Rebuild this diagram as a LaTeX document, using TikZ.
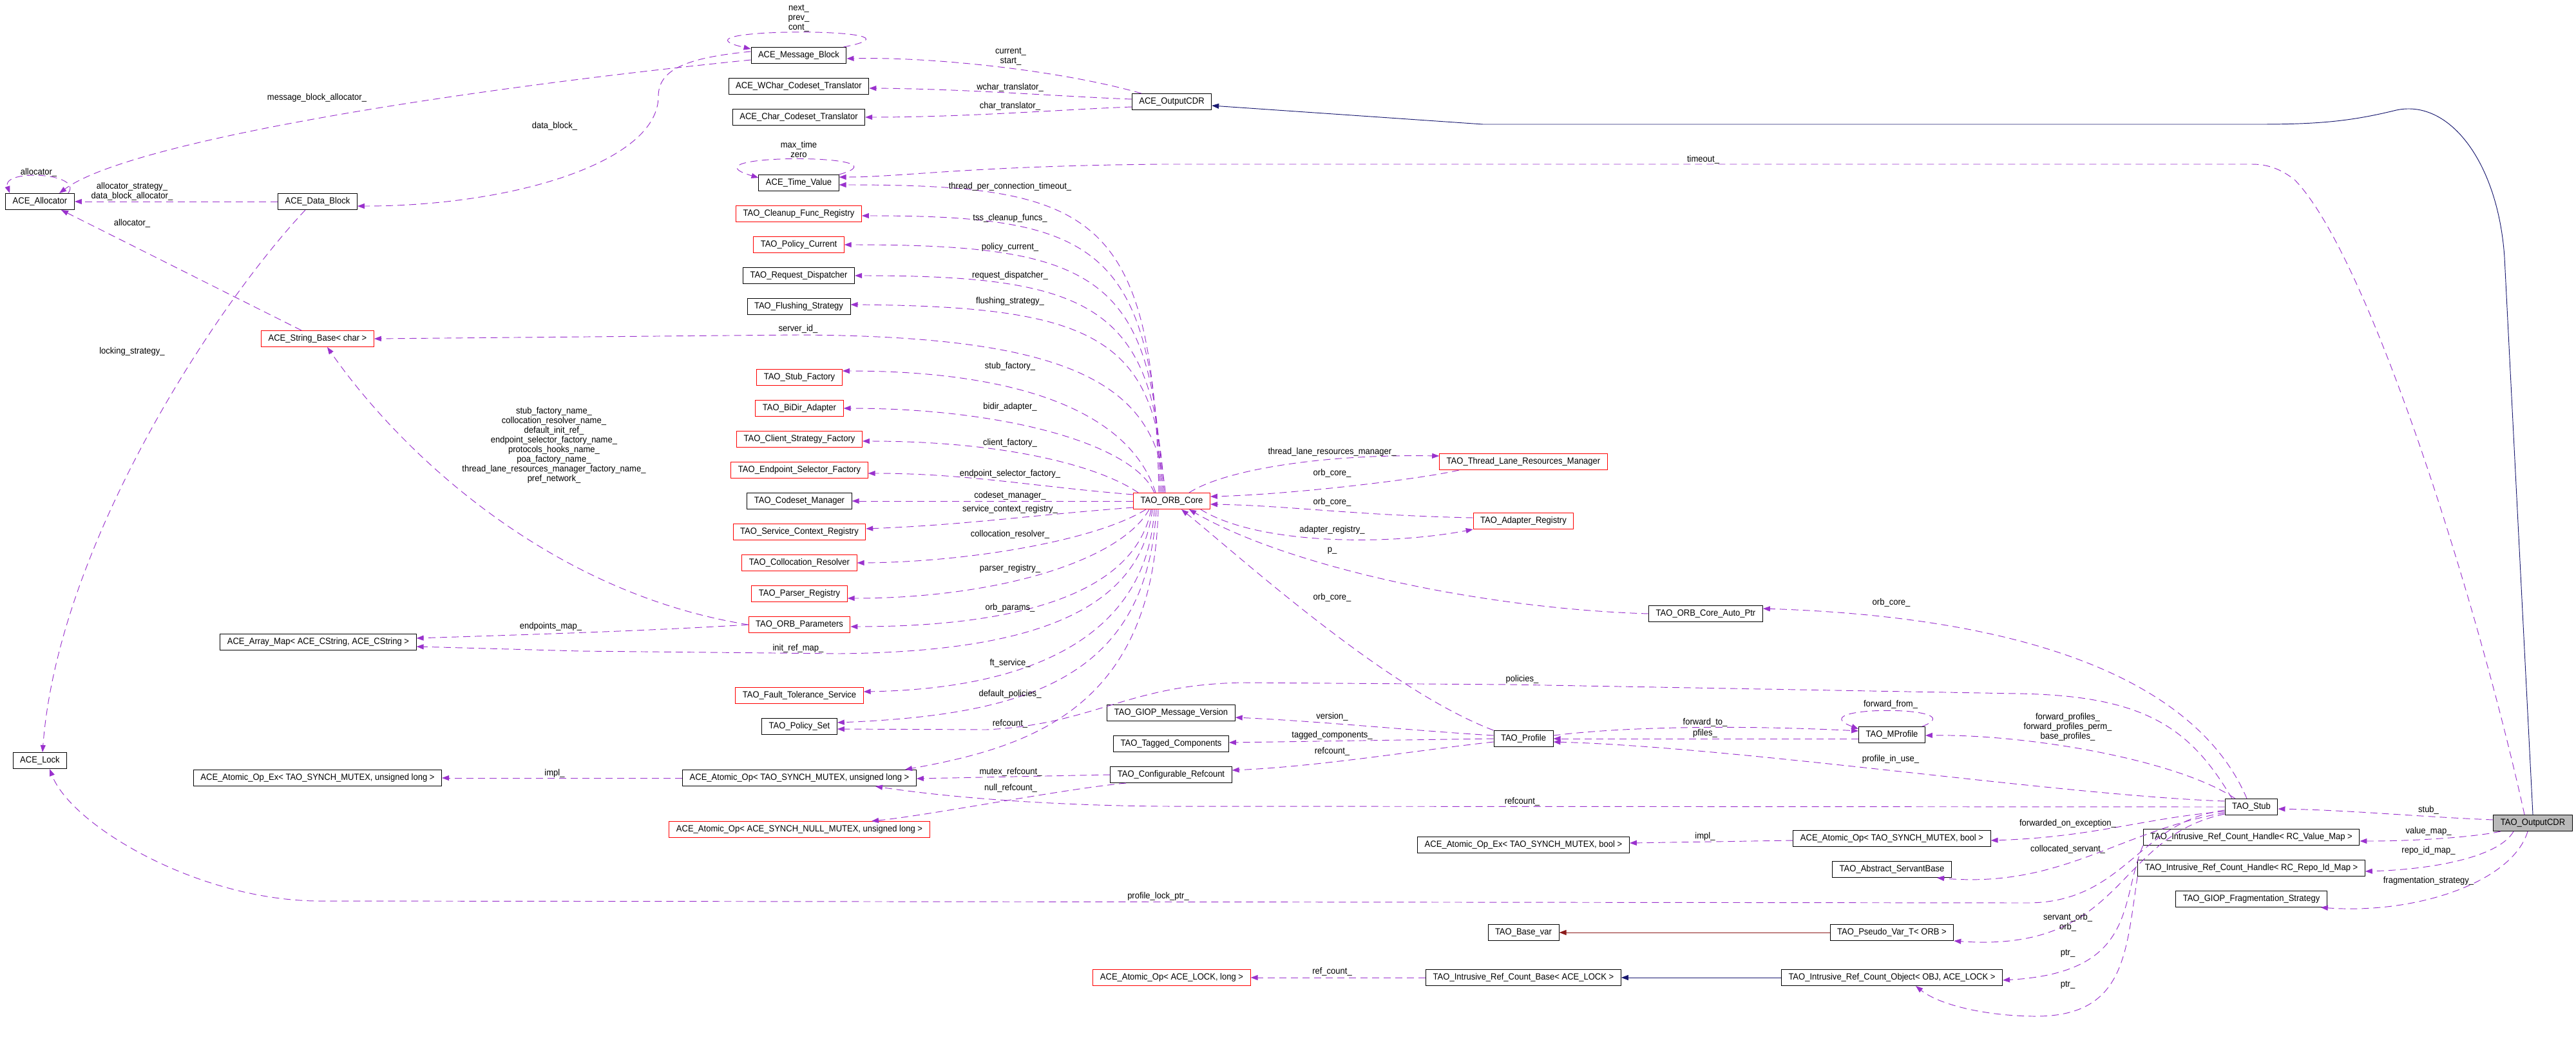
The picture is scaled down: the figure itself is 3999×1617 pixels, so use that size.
\documentclass[tikz,border=0pt]{standalone}
\usepackage{fontspec}
\usetikzlibrary{arrows.meta}
\newfontfamily\doxfont[FakeStretch=0.93]{Liberation Sans}
\newcommand{\dxf}{\doxfont\fontsize{14pt}{15pt}\selectfont}
\definecolor{dxpurple}{HTML}{9A32CD}
\definecolor{dxblue}{HTML}{191970}
\definecolor{dxred}{HTML}{8B1A1A}
\tikzset{
  cls/.style={draw=black, line width=1pt, fill=white, font=\dxf, inner xsep=11pt, inner ysep=0pt, minimum height=25pt},
  redcls/.style={cls, draw=red},
  focuscls/.style={cls, fill=gray!55},
  member/.style={->, draw=dxpurple, line width=0.95pt, dash pattern=on 11pt off 7pt},
  pubinh/.style={->, draw=dxblue, line width=0.95pt},
  protinh/.style={->, draw=dxred, line width=0.95pt},
  lbl/.style={font=\dxf, inner sep=0pt, align=center}
}
\begin{document}
\begin{tikzpicture}[x=1pt, y=-1pt, >={Triangle[length=11pt,width=8pt]}, node distance=48pt]
\useasboundingbox (0,0) rectangle (3999,1617);

% ACE side
\node[cls] (alloc) at (62,313) {ACE\_Allocator};
\node[cls] (datablk) at (493,313) {ACE\_Data\_Block};
\node[redcls] (strbase) at (493,526) {ACE\_String\_Base< char >};
\node[cls] (arraymap) at (494,997) {ACE\_Array\_Map< ACE\_CString, ACE\_CString >};
\node[cls] (acelock) at (62,1181) {ACE\_Lock};
\node[cls] (atomexul) at (493,1208) {ACE\_Atomic\_Op\_Ex< TAO\_SYNCH\_MUTEX, unsigned long >};

% middle column
\node[cls] (msgblk) at (1240,86) {ACE\_Message\_Block};
\node[cls] (wchar) [below of = msgblk] {ACE\_WChar\_Codeset\_Translator};
\node[cls] (chartr) [below of = wchar] {ACE\_Char\_Codeset\_Translator};
\node[cls] (timeval) at (1240,284) {ACE\_Time\_Value};
\node[redcls] (cleanup) [below of = timeval] {TAO\_Cleanup\_Func\_Registry};
\node[redcls] (polcur) [below of = cleanup] {TAO\_Policy\_Current};
\node[cls] (reqdisp) [below of = polcur] {TAO\_Request\_Dispatcher};
\node[cls] (flush) [below of = reqdisp] {TAO\_Flushing\_Strategy};
\node[redcls] (stubfac) at (1241,586) {TAO\_Stub\_Factory};
\node[redcls] (bidir) [below of = stubfac] {TAO\_BiDir\_Adapter};
\node[redcls] (clifac) [below of = bidir] {TAO\_Client\_Strategy\_Factory};
\node[redcls] (epsel) [below of = clifac] {TAO\_Endpoint\_Selector\_Factory};
\node[cls] (codeset) [below of = epsel] {TAO\_Codeset\_Manager};
\node[redcls] (svcctx) [below of = codeset] {TAO\_Service\_Context\_Registry};
\node[redcls] (colloc) [below of = svcctx] {TAO\_Collocation\_Resolver};
\node[redcls] (parser) [below of = colloc] {TAO\_Parser\_Registry};
\node[redcls] (orbparams) [below of = parser] {TAO\_ORB\_Parameters};
\node[redcls] (ftserv) at (1241,1080) {TAO\_Fault\_Tolerance\_Service};
\node[cls] (polset) [below of = ftserv] {TAO\_Policy\_Set};
\node[cls] (atomul) at (1241,1208) {ACE\_Atomic\_Op< TAO\_SYNCH\_MUTEX, unsigned long >};
\node[redcls] (atomnull) at (1241,1288) {ACE\_Atomic\_Op< ACE\_SYNCH\_NULL\_MUTEX, unsigned long >};

% ORB core column
\node[cls] (acecdr) at (1819,158) {ACE\_OutputCDR};
\node[redcls] (orbcore) at (1819,778) {TAO\_ORB\_Core};
\node[cls] (giopver) at (1818,1107) {TAO\_GIOP\_Message\_Version};
\node[cls] (tagged) [below of = giopver] {TAO\_Tagged\_Components};
\node[cls] (cfgref) [below of = tagged] {TAO\_Configurable\_Refcount};
\node[redcls] (atomlock) at (1819,1518) {ACE\_Atomic\_Op< ACE\_LOCK, long >};

% right part
\node[redcls] (tlrm) at (2365,717) {TAO\_Thread\_Lane\_Resources\_Manager};
\node[redcls] (adreg) at (2365,809) {TAO\_Adapter\_Registry};
\node[cls] (autoptr) at (2648,953) {TAO\_ORB\_Core\_Auto\_Ptr};
\node[cls] (profile) at (2365,1147) {TAO\_Profile};
\node[cls] (atomexbool) at (2365,1312) {ACE\_Atomic\_Op\_Ex< TAO\_SYNCH\_MUTEX, bool >};
\node[cls] (basevar) at (2365,1448) {TAO\_Base\_var};
\node[cls] (refbase) at (2365,1518) {TAO\_Intrusive\_Ref\_Count\_Base< ACE\_LOCK >};
\node[cls] (mprofile) at (2937,1141) {TAO\_MProfile};
\node[cls] (atombool) at (2937,1302) {ACE\_Atomic\_Op< TAO\_SYNCH\_MUTEX, bool >};
\node[cls] (servant) [below of = atombool] {TAO\_Abstract\_ServantBase};
\node[cls] (pseudovar) at (2937,1448) {TAO\_Pseudo\_Var\_T< ORB >};
\node[cls] (refobj) at (2937,1518) {TAO\_Intrusive\_Ref\_Count\_Object< OBJ, ACE\_LOCK >};
\node[cls] (stub) at (3495,1253) {TAO\_Stub};
\node[cls] (hvalue) at (3495,1300) {TAO\_Intrusive\_Ref\_Count\_Handle< RC\_Value\_Map >};
\node[cls] (hrepo) [below of = hvalue] {TAO\_Intrusive\_Ref\_Count\_Handle< RC\_Repo\_Id\_Map >};
\node[cls] (fragstrat) [below of = hrepo] {TAO\_GIOP\_Fragmentation\_Strategy};
\node[focuscls] (taocdr) at (3932,1278) {TAO\_OutputCDR};

% allocator and lock
\draw[member] ([xshift=-10pt]alloc.north east) .. controls (130,268) and (2,262) .. ([xshift=7pt]alloc.north west);
\node[lbl] (l-alloc) at (60,268) {allocator\_};
\draw[member] ([yshift=-7pt]msgblk.west) .. controls (700,140) and (200,220) .. ([xshift=30pt]alloc.north);
\node[lbl] (l-mballoc) at (492,152) {message\_block\_allocator\_};
\draw[member] (datablk.west) -- (alloc.east);
\node[lbl] (l-dballoc) at (205,297) {allocator\_strategy\_\\data\_block\_allocator\_};
\draw[member] ([xshift=-25pt]strbase.north) -- ([xshift=33pt]alloc.south);
\node[lbl] (l-sballoc) at (205,347) {allocator\_};
\draw[member] ([xshift=-19pt]datablk.south) .. controls (330,480) and (90,850) .. ([xshift=4pt]acelock.north);
\node[lbl] (l-lock) at (205,546) {locking\_strategy\_};
\draw[member] ([yshift=6pt]msgblk.west) .. controls (1060,90) and (1022,110) .. (1022,150) .. controls (1022,250) and (800,320) .. ([yshift=-7pt]datablk.east);
\node[lbl] (l-datablk) at (861,196) {data\_block\_};
\draw[member] ([xshift=-5pt]msgblk.north east) .. controls (1470,42) and (1020,42) .. ([yshift=10pt]msgblk.west);
\node[lbl] (l-next) at (1240,28) {next\_\\prev\_\\cont\_};

% ACE_OutputCDR
\draw[member] ([xshift=15pt]acecdr.north west) .. controls (1650,110) and (1450,88) .. ([yshift=-5pt]msgblk.east);
\node[lbl] (l-cur) at (1569,88) {current\_\\start\_};
\draw[member] ([yshift=4pt]acecdr.west) .. controls (1650,150) and (1500,138) .. ([yshift=-3pt]wchar.east);
\node[lbl] (l-wchar) at (1568,136) {wchar\_translator\_};
\draw[member] ([yshift=-8pt]acecdr.west) .. controls (1650,170) and (1500,182) .. (chartr.east);
\node[lbl] (l-char) at (1568,165) {char\_translator\_};
\draw[pubinh] (taocdr.north) -- (3888,400) .. controls (3878,250) and (3800,150) .. (3716,172) .. controls (3650,188) and (3600,193) .. (3508,193) -- (2302,193) -- ([yshift=-6pt]acecdr.east);
\draw[member] ([xshift=-13pt]taocdr.north) .. controls (3850,950) and (3680,400) .. (3562,279) .. controls (3540,262) and (3520,255) .. (3496,255) -- (1800,255) .. controls (1500,258) and (1400,275) .. ([yshift=9pt]timeval.east);
\node[lbl] (l-timeout) at (2644,248) {timeout\_};
\draw[member] (timeval.north east) .. controls (1420,238) and (1050,238) .. ([yshift=8pt]timeval.west);
\node[lbl] (l-maxtime) at (1240,232) {max\_time\\zero};

% TAO_ORB_Core fan
\draw[member] ([xshift=-20pt]orbcore.north) .. controls (1790,330) and (1700,287) .. ([yshift=-3pt]timeval.east);
\node[lbl] (l-tpct) at (1568,290) {thread\_per\_connection\_timeout\_};
\draw[member] ([xshift=-18pt]orbcore.north) .. controls (1792,380) and (1700,335) .. ([yshift=-3pt]cleanup.east);
\node[lbl] (l-tss) at (1568,339) {tss\_cleanup\_funcs\_};
\draw[member] ([xshift=-16pt]orbcore.north) .. controls (1794,425) and (1700,380) .. (polcur.east);
\node[lbl] (l-polcur) at (1568,384) {policy\_current\_};
\draw[member] ([xshift=-14pt]orbcore.north) .. controls (1796,473) and (1690,428) .. (reqdisp.east);
\node[lbl] (l-reqdisp) at (1568,428) {request\_dispatcher\_};
\draw[member] ([xshift=-12pt]orbcore.north) .. controls (1798,520) and (1690,476) .. ([yshift=3pt]flush.east);
\node[lbl] (l-flush) at (1568,468) {flushing\_strategy\_};
\draw[member] ([xshift=-10pt]orbcore.north) .. controls (1795,590) and (1650,522) .. (1239,520) -- (strbase.east);
\node[lbl] (l-serverid) at (1239,511) {server\_id\_};
\draw[member] ([xshift=-25pt]orbcore.north) .. controls (1750,630) and (1560,576) .. ([yshift=10pt]stubfac.east);
\node[lbl] (l-stubfac) at (1568,569) {stub\_factory\_};
\draw[member] ([xshift=-27pt]orbcore.north) .. controls (1760,690) and (1560,634) .. (bidir.east);
\node[lbl] (l-bidir) at (1568,632) {bidir\_adapter\_};
\draw[member] ([xshift=8pt]orbcore.north west) .. controls (1700,720) and (1550,685) .. ([yshift=-3pt]clifac.east);
\node[lbl] (l-clifac) at (1568,688) {client\_factory\_};
\draw[member] ([yshift=10pt]orbcore.west) .. controls (1600,755) and (1500,735) .. ([yshift=-5pt]epsel.east);
\node[lbl] (l-epsel) at (1568,736) {endpoint\_selector\_factory\_};
\draw[member] (orbcore.west) -- (codeset.east);
\node[lbl] (l-codeset) at (1568,770) {codeset\_manager\_};
\draw[member] ([yshift=-10pt]orbcore.west) .. controls (1600,800) and (1500,815) .. ([yshift=5pt]svcctx.east);
\node[lbl] (l-svcctx) at (1568,791) {service\_context\_registry\_};
\draw[member] ([xshift=-40pt]orbcore.south) .. controls (1700,840) and (1500,873) .. (colloc.east);
\node[lbl] (l-colloc) at (1568,830) {collocation\_resolver\_};
\draw[member] ([xshift=-35pt]orbcore.south) .. controls (1740,870) and (1550,929) .. ([yshift=-7pt]parser.east);
\node[lbl] (l-parser) at (1568,883) {parser\_registry\_};
\draw[member] ([xshift=-32pt]orbcore.south) .. controls (1760,930) and (1560,973) .. ([yshift=-3pt]orbparams.east);
\node[lbl] (l-orbparams) at (1568,944) {orb\_params\_};
\draw[member] ([xshift=-30pt]orbcore.south) .. controls (1770,950) and (1600,1012) .. (1302,1015) -- (900,1011) -- ([yshift=-7pt]arraymap.east);
\node[lbl] (l-initref) at (1239,1007) {init\_ref\_map\_};
\draw[member] ([xshift=-27pt]orbcore.south) .. controls (1780,1000) and (1580,1070) .. ([yshift=6pt]ftserv.east);
\node[lbl] (l-ft) at (1568,1030) {ft\_service\_};
\draw[member] ([xshift=-24pt]orbcore.south) .. controls (1780,1050) and (1600,1110) .. ([yshift=6pt]polset.east);
\node[lbl] (l-defpol) at (1568,1078) {default\_policies\_};
\draw[member] ([xshift=-21pt]orbcore.south) .. controls (1790,1100) and (1600,1160) .. ([xshift=164pt]atomul.north);
\node[lbl] (l-ocref) at (1568,1124) {refcount\_};
\draw[member] (atomul.west) -- (atomexul.east);
\node[lbl] (l-implul) at (861,1201) {impl\_};

% ORB parameters
\draw[member] (orbparams.west) .. controls (850,920) and (620,700) .. ([xshift=15pt]strbase.south);
\node[lbl] (l-names) at (860,691) {stub\_factory\_name\_\\collocation\_resolver\_name\_\\default\_init\_ref\_\\endpoint\_selector\_factory\_name\_\\protocols\_hooks\_name\_\\poa\_factory\_name\_\\thread\_lane\_resources\_manager\_factory\_name\_\\pref\_network\_};
\draw[member] (orbparams.west) .. controls (1000,980) and (800,986) .. ([yshift=6pt]arraymap.east);
\node[lbl] (l-epmap) at (855,973) {endpoints\_map\_};

% around TAO_ORB_Core
\draw[member] ([xshift=27pt]orbcore.north) .. controls (1900,730) and (2050,705) .. ([yshift=9pt]tlrm.west);
\node[lbl] (l-tlrm) at (2068,702) {thread\_lane\_resources\_manager\_};
\draw[member] ([xshift=-100pt]tlrm.south) .. controls (2200,745) and (2000,768) .. ([yshift=7pt]orbcore.east);
\node[lbl] (l-tlrmoc) at (2068,735) {orb\_core\_};
\draw[member] ([yshift=5pt]adreg.west) .. controls (2100,800) and (2000,785) .. ([yshift=-5pt]orbcore.east);
\node[lbl] (l-adregoc) at (2068,780) {orb\_core\_};
\draw[member] ([xshift=-15pt]orbcore.south east) .. controls (1950,845) and (2150,848) .. (adreg.south west);
\node[lbl] (l-adreg) at (2068,823) {adapter\_registry\_};
\draw[member] (autoptr.west) .. controls (2300,945) and (2000,880) .. ([xshift=27pt]orbcore.south);
\node[lbl] (l-p) at (2068,855) {p\_};
\draw[member] (profile.north west) .. controls (2150,1070) and (1920,860) .. ([xshift=15pt]orbcore.south);
\node[lbl] (l-profoc) at (2068,928) {orb\_core\_};

% TAO_Profile
\draw[member] ([yshift=5pt]profile.west) .. controls (2200,1135) and (2050,1120) .. ([yshift=-7pt]giopver.east);
\node[lbl] (l-version) at (2068,1113) {version\_};
\draw[member] (profile.west) -- ([yshift=2pt]tagged.east);
\node[lbl] (l-tagged) at (2068,1142) {tagged\_components\_};
\draw[member] ([yshift=-5pt]profile.west) .. controls (2200,1165) and (2050,1190) .. ([yshift=7pt]cfgref.east);
\node[lbl] (l-profref) at (2068,1167) {refcount\_};
\draw[member] ([yshift=5pt]profile.east) .. controls (2550,1125) and (2750,1128) .. ([yshift=6pt]mprofile.west);
\node[lbl] (l-fwdto) at (2647,1122) {forward\_to\_};
\draw[member] ([yshift=-6pt]mprofile.west) -- (profile.east);
\node[lbl] (l-pfiles) at (2647,1139) {pfiles\_};
\draw[member] ([xshift=-5pt]mprofile.north east) .. controls (3070,1095) and (2790,1095) .. ([yshift=9pt]mprofile.west);
\node[lbl] (l-fwdfrom) at (2935,1094) {forward\_from\_};

% TAO_Stub
\draw[member] ([xshift=-7pt]stub.north) .. controls (3420,1080) and (3200,960) .. ([yshift=8pt]autoptr.east);
\node[lbl] (l-stuboc) at (2936,936) {orb\_core\_};
\draw[member] ([xshift=-30pt]stub.north) .. controls (3400,1130) and (3330,1080) .. (3131,1077) -- (2345,1063) -- (1932,1060) .. controls (1750,1062) and (1700,1125) .. (1531,1133) -- ([yshift=-4pt]polset.east);
\node[lbl] (l-policies) at (2363,1055) {policies\_};
\draw[member] ([yshift=9pt]stub.west) .. controls (3200,1235) and (2700,1160) .. ([yshift=-5pt]profile.east);
\node[lbl] (l-inuse) at (2935,1179) {profile\_in\_use\_};
\draw[member] ([xshift=-25pt]stub.north) .. controls (3380,1180) and (3150,1140) .. ([yshift=-1pt]mprofile.east);
\node[lbl] (l-fwdprof) at (3210,1129) {forward\_profiles\_\\forward\_profiles\_perm\_\\base\_profiles\_};
\draw[member] (stub.west) -- (1800,1252) .. controls (1600,1250) and (1450,1235) .. ([xshift=118pt]atomul.south);
\node[lbl] (l-stubref) at (2363,1245) {refcount\_};
\draw[member] ([yshift=-5pt]stub.west) .. controls (3320,1275) and (3300,1400) .. (3150,1402) -- (488,1399) .. controls (300,1395) and (110,1280) .. ([xshift=15pt]acelock.south);
\node[lbl] (l-lockptr) at (1798,1392) {profile\_lock\_ptr\_};
\draw[member] ([yshift=-7pt]stub.west) .. controls (3330,1270) and (3250,1300) .. ([yshift=-3pt]atombool.east);
\node[lbl] (l-fwdexc) at (3210,1279) {forwarded\_on\_exception\_};
\draw[member] ([yshift=-9pt]stub.west) .. controls (3290,1290) and (3200,1380) .. ([xshift=70pt]servant.south);
\node[lbl] (l-colserv) at (3210,1319) {collocated\_servant\_};
\draw[member] ([yshift=-11pt]stub.west) .. controls (3280,1300) and (3300,1480) .. (pseudovar.south east);
\node[lbl] (l-orb) at (3210,1432) {servant\_orb\_\\orb\_};
\draw[member] ([yshift=-3pt]atombool.west) -- ([yshift=3pt]atomexbool.east);
\node[lbl] (l-implbool) at (2647,1299) {impl\_};

% TAO_OutputCDR
\draw[member] ([yshift=5pt]taocdr.west) .. controls (3750,1268) and (3650,1258) .. ([yshift=-3pt]stub.east);
\node[lbl] (l-stub) at (3770,1258) {stub\_};
\draw[member] ([xshift=-50pt]taocdr.south) .. controls (3840,1300) and (3750,1306) .. ([yshift=-6pt]hvalue.east);
\node[lbl] (l-value) at (3770,1291) {value\_map\_};
\draw[member] ([xshift=-30pt]taocdr.south) .. controls (3880,1330) and (3780,1350) .. ([yshift=-5pt]hrepo.east);
\node[lbl] (l-repo) at (3770,1321) {repo\_id\_map\_};
\draw[member] ([xshift=-8pt]taocdr.south) .. controls (3900,1370) and (3750,1420) .. ([xshift=-10pt]fragstrat.south east);
\node[lbl] (l-frag) at (3770,1368) {fragmentation\_strategy\_};

% handles and bases
\draw[member] (hvalue.south west) .. controls (3290,1400) and (3320,1510) .. ([yshift=-4pt]refobj.east);
\node[lbl] (l-ptr1) at (3210,1480) {ptr\_};
\draw[member] (hrepo.south west) .. controls (3300,1480) and (3300,1580) .. (3156,1578) .. controls (3080,1577) and (3010,1560) .. ([xshift=37pt]refobj.south);
\node[lbl] (l-ptr2) at (3210,1529) {ptr\_};
\draw[protinh] (pseudovar.west) -- (basevar.east);
\draw[pubinh] (refobj.west) -- (refbase.east);
\draw[member] (refbase.west) -- (atomlock.east);
\node[lbl] (l-refcnt) at (2068,1509) {ref\_count\_};
\draw[member] (cfgref.west) -- ([yshift=-1pt]atomul.east);
\node[lbl] (l-mutexref) at (1569,1199) {mutex\_refcount\_};
\draw[member] ([xshift=-70pt]cfgref.south) .. controls (1650,1225) and (1450,1265) .. ([xshift=112pt]atomnull.north);
\node[lbl] (l-nullref) at (1569,1224) {null\_refcount\_};
\end{tikzpicture}
\end{document}
